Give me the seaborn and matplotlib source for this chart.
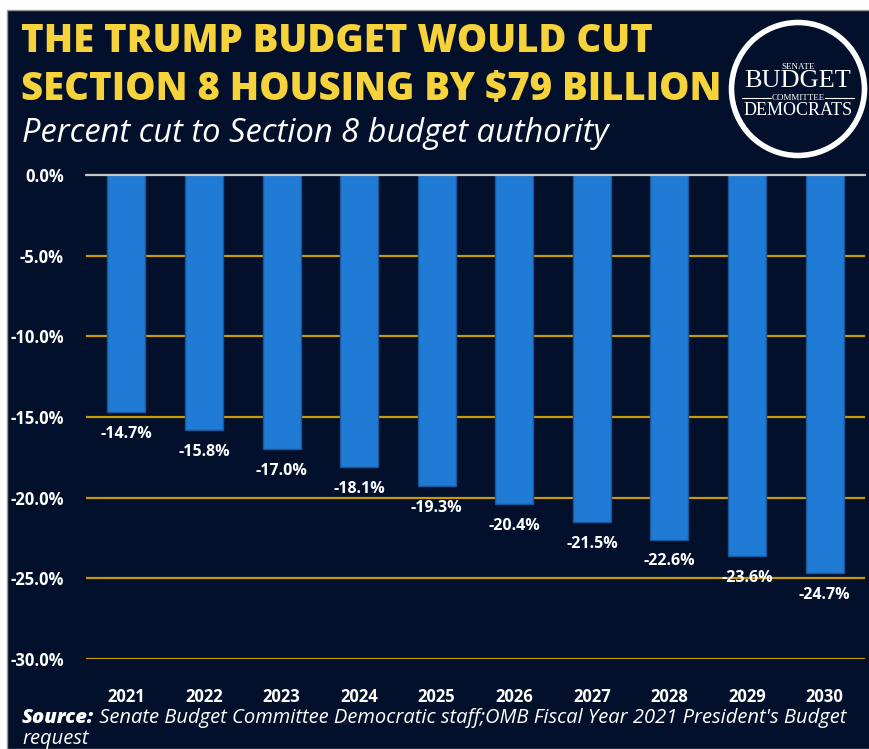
import numpy as np
import pandas as pd
import seaborn as sns
import matplotlib.pyplot as plt
from matplotlib.patches import Rectangle, Circle

# Percent cut to Section 8 budget authority, by fiscal year
years = ["2021", "2022", "2023", "2024", "2025", "2026", "2027", "2028", "2029", "2030"]
cuts = [-14.7, -15.8, -17.0, -18.1, -19.3, -20.4, -21.5, -22.6, -23.6, -24.7]
y_ticks = [0, -5, -10, -15, -20, -25, -30]

title_lines = ["THE TRUMP BUDGET WOULD CUT", "SECTION 8 HOUSING BY $79 BILLION"]
subtitle = "Percent cut to Section 8 budget authority"
source_bold = "Source:"
source_rest = " Senate Budget Committee Democratic staff;OMB Fiscal Year 2021 President's Budget"
source_line2 = "request"

NAVY = "#02102b"
BLUE = "#1f7bd5"
GOLD = "#c99a06"
YELLOW = "#f7d33b"

sns.set_style("dark")
plt.rcParams['font.family'] = ['Open Sans', 'DejaVu Sans']

W, H = 869, 749
fig = plt.figure(figsize=(W / 100, H / 100), dpi=100, facecolor="white")
# dark panel, with a thin grey frame like the screenshot
fig.add_artist(Rectangle((7 / W, 0), 1, (H - 10) / H, transform=fig.transFigure,
                         facecolor=NAVY, edgecolor="#9a9a9a", linewidth=1.0,
                         zorder=-10))

ax = fig.add_axes([86 / W, (H - 659) / H, (865 - 86) / W, (659 - 175) / H])
ax.set_facecolor(NAVY)

df = pd.DataFrame({"year": years, "cut": cuts})
sns.barplot(data=df, x="year", y="cut", color=BLUE, width=0.49, saturation=1,
            edgecolor="#1a5799", linewidth=1.0, ax=ax, zorder=3)

ax.set_ylim(-30, 0)
ax.set_xlim(-0.52, len(years) - 0.48)
for t in y_ticks[1:]:
    ax.axhline(t, color=GOLD, linewidth=1.6, zorder=1)
ax.axhline(0, color="#c8c8c8", linewidth=1.6, zorder=4, clip_on=False)

ax.set_yticks(y_ticks)
ax.set_yticklabels([f"{t:.1f}%" for t in y_ticks])
ax.tick_params(axis="y", length=0, pad=16, labelsize=12, labelcolor="white")
ax.tick_params(axis="x", length=0, pad=21, labelsize=12, labelcolor="white")
for lab in ax.get_xticklabels() + ax.get_yticklabels():
    lab.set_fontweight("bold")
ax.set_xlabel("")
ax.set_ylabel("")
ax.grid(False)
for s in ax.spines.values():
    s.set_visible(False)

for i, v in enumerate(cuts):
    ax.text(i, v - 1.35, f"{v:.1f}%", ha="center", va="center", color="white",
            fontsize=11.5, fontweight="bold", zorder=5)

# titles
fig.text(21 / W, 1 - 42 / H, title_lines[0], color=YELLOW, fontsize=27.5,
         fontweight="heavy", va="center", ha="left")
fig.text(21 / W, 1 - 90 / H, title_lines[1], color=YELLOW, fontsize=27.5,
         fontweight="heavy", va="center", ha="left")
fig.text(22 / W, 1 - 133 / H, subtitle, color="white", fontsize=23.5,
         style="italic", va="center", ha="left")

# source
src = fig.text(22 / W, 1 - 718 / H, source_bold, color="white", fontsize=14.5,
               style="italic", fontweight="heavy", va="center", ha="left")
fig.canvas.draw()
bb = src.get_window_extent()
fig.text(bb.x1 / W, 1 - 718 / H, source_rest, color="white", fontsize=14.5,
         style="italic", va="center", ha="left")
fig.text(22 / W, 1 - 739 / H, source_line2, color="white", fontsize=14.5,
         style="italic", va="center", ha="left")

# logo
lax = fig.add_axes([728 / W, (H - 159) / H, 140 / W, 140 / H])
lax.set_xlim(-1, 1)
lax.set_ylim(-1, 1)
lax.axis("off")
lax.add_patch(Circle((0, 0), 0.95, facecolor=NAVY, edgecolor="white", linewidth=4))
serif = ["Liberation Serif", "DejaVu Serif"]
lax.text(0, 0.31, "SENATE", ha="center", va="center", color="white", fontsize=6.5,
         family=serif)
lax.text(0, 0.11, "BUDGET", ha="center", va="center", color="white", fontsize=19,
         family=serif)
lax.text(0, -0.13, "COMMITTEE", ha="center", va="center", color="white", fontsize=6.5,
         family=serif)
lax.plot([-0.8, -0.38], [-0.13, -0.13], color="white", linewidth=0.8)
lax.plot([0.38, 0.8], [-0.13, -0.13], color="white", linewidth=0.8)
lax.text(0, -0.31, "DEMOCRATS", ha="center", va="center", color="white", fontsize=13,
         family=serif)

fig.savefig("out.png", dpi=100, facecolor=fig.get_facecolor())
